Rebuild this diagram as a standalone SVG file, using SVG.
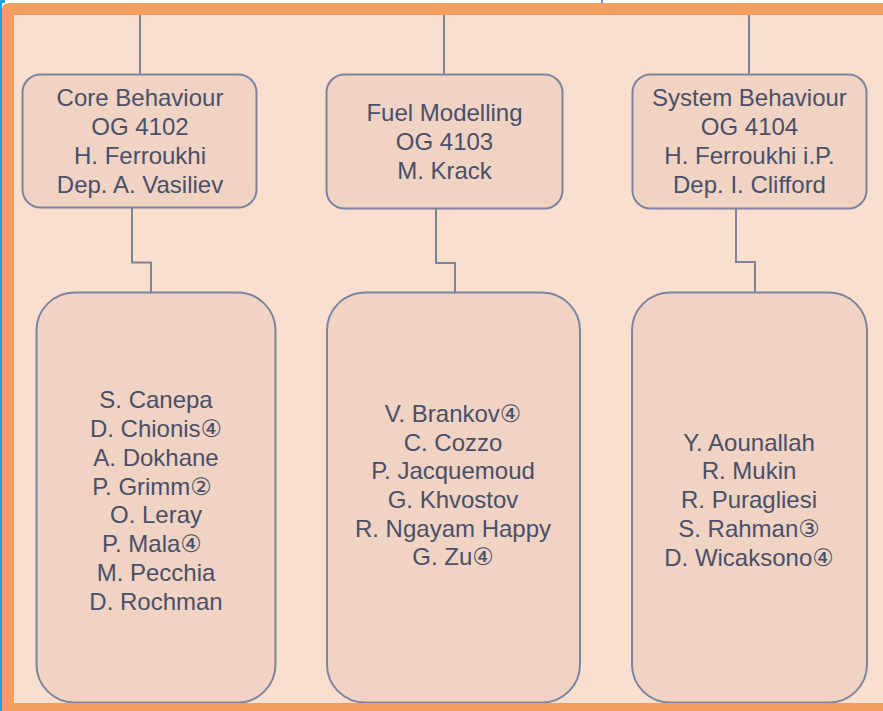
<svg xmlns="http://www.w3.org/2000/svg" width="883" height="711" viewBox="0 0 883 711">
<style>
.box{fill:#F0D3C2;stroke:#7C84A0;stroke-width:2}
.con{fill:none;stroke:#7C84A0;stroke-width:2}
.t{font-family:"Liberation Sans",Arial,"DejaVu Sans",sans-serif;font-size:24px;fill:#4A4F6A;text-anchor:middle}
</style>
<rect x="0" y="0" width="883" height="711" fill="#FFFFFF"/>
<rect x="14" y="15" width="869" height="688" fill="#FADFCF"/>
<g id="connectors">
<line class="con" x1="140" y1="15" x2="140" y2="75"/>
<line class="con" x1="444" y1="15" x2="444" y2="75"/>
<line class="con" x1="749" y1="15" x2="749" y2="75"/>
<polyline class="con" points="132,207 132,262.5 151,262.5 151,293"/>
<polyline class="con" points="436,208 436,263 455,263 455,293"/>
<polyline class="con" points="736,208 736,262 755,262 755,293"/>
</g>
<g id="og4102">
<rect class="box" x="22.5" y="74.5" width="234" height="133" rx="18"/>
<text class="t" x="140" y="106">Core Behaviour</text>
<text class="t" x="140" y="135">OG 4102</text>
<text class="t" x="140" y="164">H. Ferroukhi</text>
<text class="t" x="140" y="193">Dep. A. Vasiliev</text>
</g>
<g id="og4103">
<rect class="box" x="326.5" y="74.5" width="236" height="134" rx="18"/>
<text class="t" x="444.5" y="121">Fuel Modelling</text>
<text class="t" x="444.5" y="150">OG 4103</text>
<text class="t" x="444.5" y="179">M. Krack</text>
</g>
<g id="og4104">
<rect class="box" x="632.5" y="74.5" width="234" height="134" rx="18"/>
<text class="t" x="749.5" y="106">System Behaviour</text>
<text class="t" x="749.5" y="135">OG 4104</text>
<text class="t" x="749.5" y="164">H. Ferroukhi i.P.</text>
<text class="t" x="749.5" y="193">Dep. I. Clifford</text>
</g>
<g id="team4102">
<rect class="box" x="36.5" y="292.5" width="239" height="410" rx="38"/>
<text class="t" x="156" y="408">S. Canepa</text>
<text class="t" x="156" y="437">D. Chionis④</text>
<text class="t" x="156" y="466">A. Dokhane</text>
<text class="t" x="152" y="495">P. Grimm②</text>
<text class="t" x="156" y="523">O. Leray</text>
<text class="t" x="152" y="552">P. Mala④</text>
<text class="t" x="156" y="581">M. Pecchia</text>
<text class="t" x="156" y="610">D. Rochman</text>
</g>
<g id="team4103">
<rect class="box" x="327" y="292.5" width="253" height="410" rx="38"/>
<text class="t" x="453" y="422">V. Brankov④</text>
<text class="t" x="453" y="451">C. Cozzo</text>
<text class="t" x="453" y="479">P. Jacquemoud</text>
<text class="t" x="453" y="508">G. Khvostov</text>
<text class="t" x="453" y="537">R. Ngayam Happy</text>
<text class="t" x="453" y="565">G. Zu④</text>
</g>
<g id="team4104">
<rect class="box" x="632" y="292.5" width="235" height="410" rx="38"/>
<text class="t" x="749" y="451">Y. Aounallah</text>
<text class="t" x="749" y="479">R. Mukin</text>
<text class="t" x="749" y="508">R. Puragliesi</text>
<text class="t" x="749" y="537">S. Rahman③</text>
<text class="t" x="749" y="566">D. Wicaksono④</text>
</g>
<path d="M2,711 V10 Q2,3 9,3 H883 V15 H14 V711 Z" fill="#F29E62"/>
<rect x="14" y="703" width="869" height="8" fill="#F29E62"/>
<rect x="0" y="0" width="2" height="711" fill="#1AA3E8"/>
<rect x="0" y="0" width="5" height="3" fill="#1AA3E8"/>
<rect x="601" y="0" width="2" height="3" fill="#6F8FD8"/>
</svg>
